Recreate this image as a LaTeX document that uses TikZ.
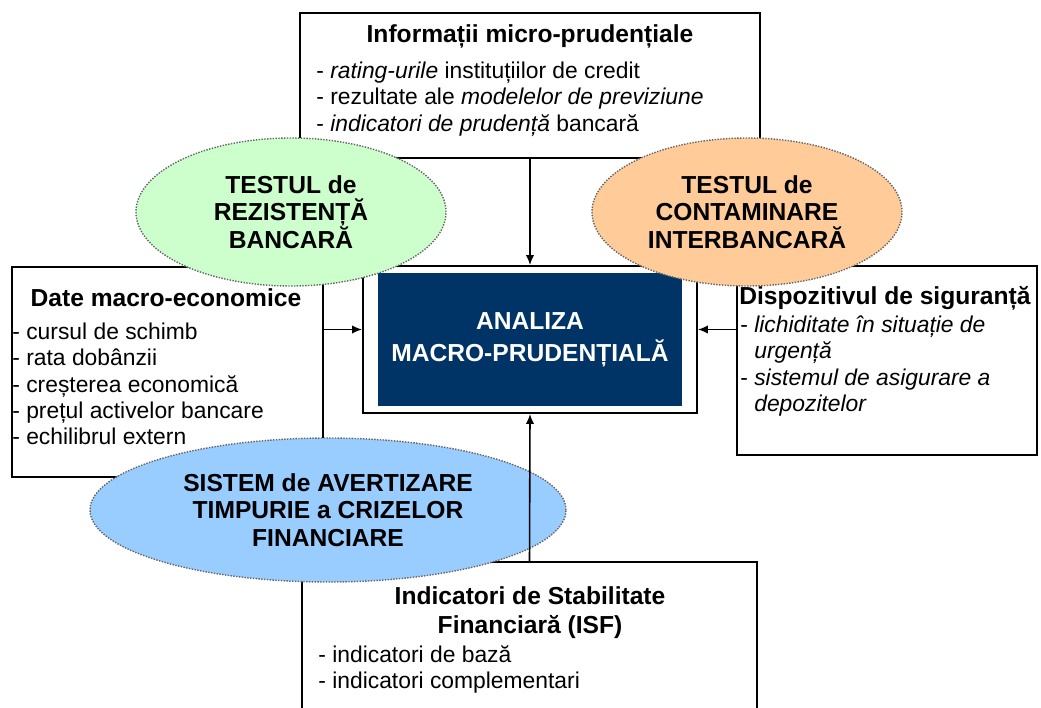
\documentclass[tikz,border=0pt]{standalone}
\usepackage{fontspec}
\setmainfont{Liberation Sans}
\usetikzlibrary{shapes.geometric,arrows.meta}

\definecolor{navybox}{RGB}{0,51,102}
\definecolor{ovalgreen}{RGB}{204,255,204}
\definecolor{ovalorange}{RGB}{255,204,153}
\definecolor{ovalblue}{RGB}{153,204,255}

\newcommand{\titlefont}{\fontsize{14}{15.5}\selectfont\bfseries}
\newcommand{\listfont}{\fontsize{13}{15}\selectfont}

\begin{document}
\begin{tikzpicture}[x=0.2mm,y=-0.2mm,
  box/.style={draw=black,line width=1.1pt,fill=white,inner sep=0pt},
  txt/.style={inner sep=0pt},
  oval/.style={ellipse,draw=black!60,dash pattern=on 0.8pt off 0.8pt,line width=0.8pt,
    inner sep=0pt,align=center,font=\titlefont},
  arr/.style={-{Latex[length=2mm,width=1.7mm]},line width=0.9pt}]

  \useasboundingbox (0,0) rectangle (1041,707);
  \clip (0,0) rectangle (1041,707);

  % draw boxes
  \node[box,minimum width=92mm,minimum height=29mm] (micro) at (530,85.5) {};
  \node[box,minimum width=62.2mm,minimum height=42mm] (macro) at (167.5,372) {};
  \node[box,minimum width=60mm,minimum height=37.8mm] (siguranta) at (887,360.5) {};
  \node[box,minimum width=91mm,minimum height=34mm] (isf) at (529.5,647) {};
  \node[box,minimum width=66.8mm,minimum height=29.4mm] (analiza) at (530,339.5) {};
  \node[fill=navybox,text=white,font=\fontsize{14}{18}\selectfont\bfseries,align=center,
    minimum width=60.8mm,minimum height=26.6mm] (nucleu) at (analiza) {ANALIZA\\MACRO-PRUDENȚIALĂ};

  % texts of the boxes
  \node[txt,font=\titlefont] (microtitle) at (530,36) {Informații micro-prudențiale};
  \node[txt,font=\listfont,align=left,anchor=west] (microlist) at (316,99)
    {- \textit{rating-urile} instituțiilor de credit\\
     - rezultate ale \textit{modelelor de previziune}\\
     - \textit{indicatori de prudență} bancară};

  \node[txt,font=\titlefont] (macrotitle) at (166,298) {Date macro-economice};
  \node[txt,font=\listfont,align=left,anchor=west] (macrolist) at (12,384)
    {- cursul de schimb\\
     - rata dobânzii\\
     - creșterea economică\\
     - prețul activelor bancare\\
     - echilibrul extern};

  \node[txt,font=\titlefont,anchor=west] (sigtitle) at (739,298) {Dispozitivul de siguranță};
  \node[txt,font=\listfont,align=left,anchor=west] (siglist) at (740,366)
    {- \textit{lichiditate în situație de}\\
     \hphantom{- }\textit{urgență}\\
     - \textit{sistemul de asigurare a}\\
     \hphantom{- }\textit{depozitelor}};

  \node[txt,font=\fontsize{14}{16.5}\selectfont\bfseries,align=center] (isftitle) at (530,612.5)
    {Indicatori de Stabilitate\\Financiară (ISF)};
  \node[txt,font=\listfont,align=left,anchor=west] (isflist) at (318,669.5)
    {- indicatori de bază\\
     - indicatori complementari};

  % draw ovals over the boxes
  \node[oval,fill=ovalgreen,minimum width=62mm,minimum height=29.6mm] (rezistenta) at (291,212)
    {TESTUL de\\REZISTENȚĂ\\BANCARĂ};
  \node[oval,fill=ovalorange,minimum width=62mm,minimum height=29.6mm] (contaminare) at (747,212)
    {TESTUL de\\CONTAMINARE\\INTERBANCARĂ};
  \node[oval,fill=ovalblue,minimum width=95.2mm,minimum height=28.8mm] (avertizare) at (328,510)
    {SISTEM de AVERTIZARE\\TIMPURIE a CRIZELOR\\FINANCIARE};

  % arrows into the analysis
  \coordinate (lvl) at (530,329.5);
  \draw[arr] (micro.south) -- (analiza.north);
  \draw[arr] (isf.north) -- (analiza.south);
  \draw[arr] (macro.east |- lvl) -- (analiza.west |- lvl);
  \draw[arr] (siguranta.west |- lvl) -- (analiza.east |- lvl);

\end{tikzpicture}
\end{document}
